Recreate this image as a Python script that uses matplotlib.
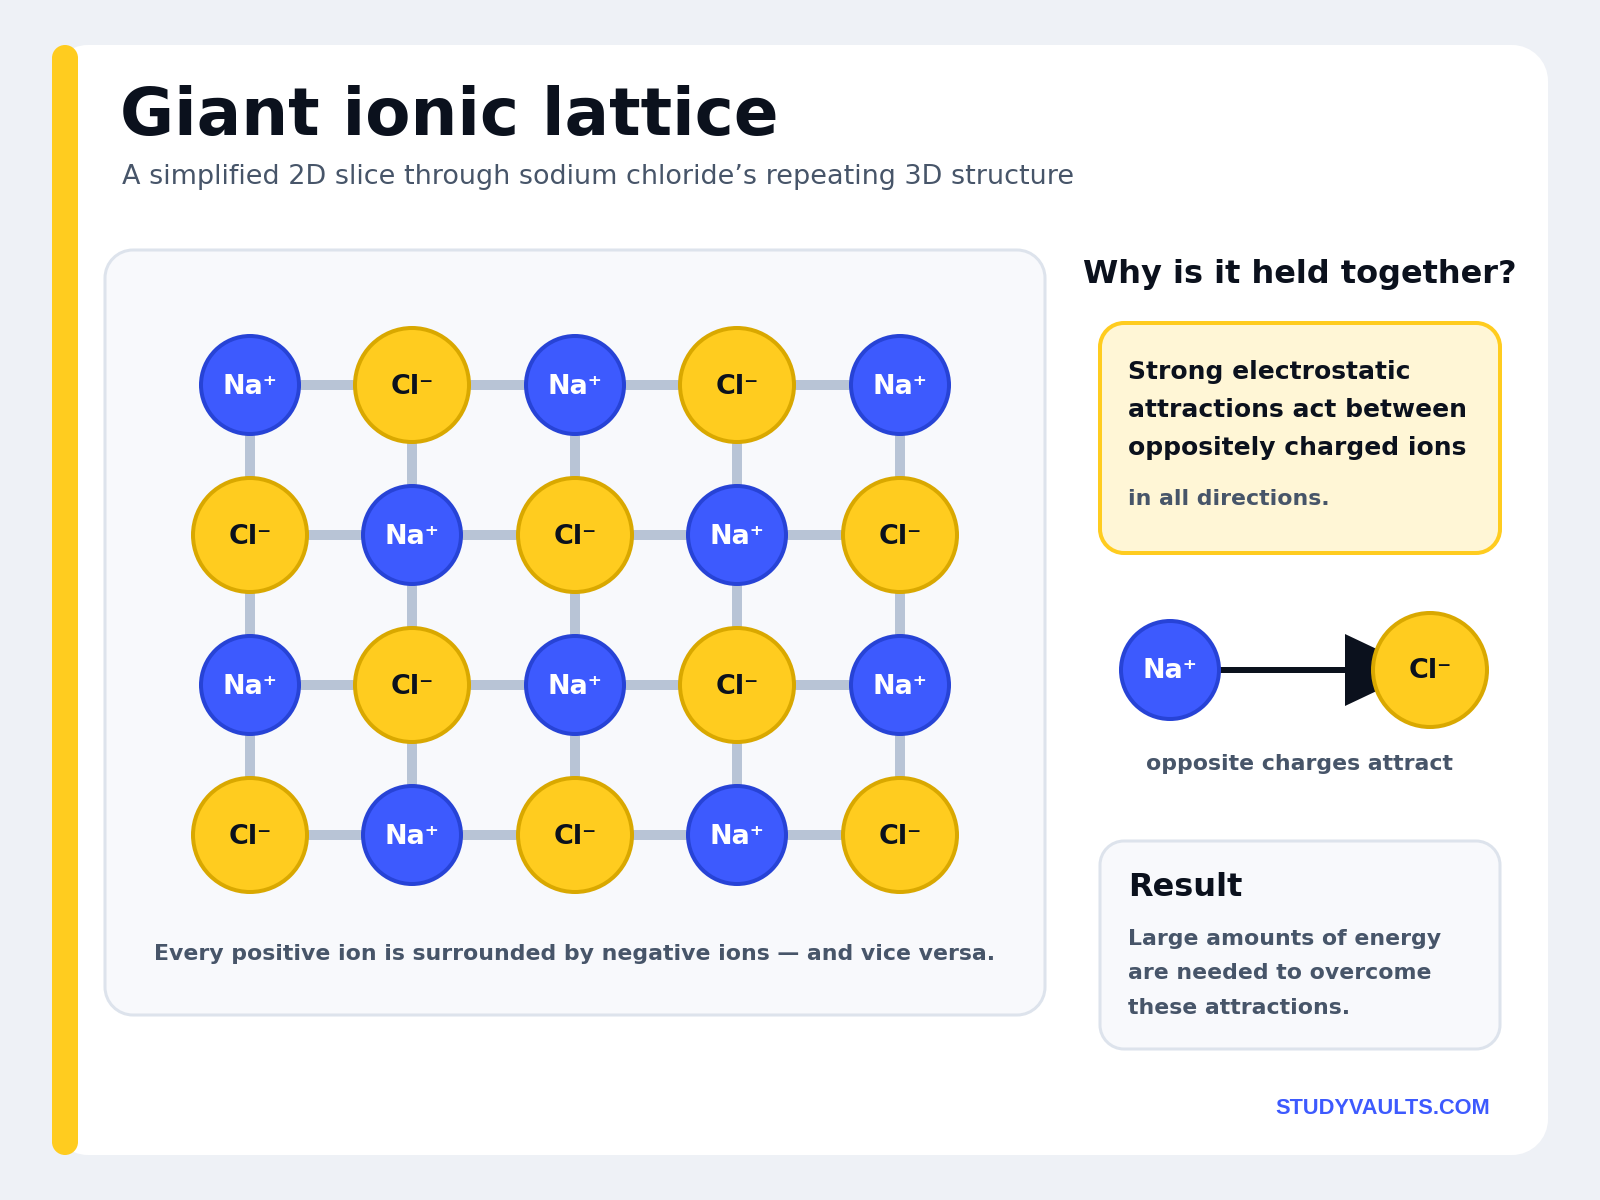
import matplotlib
matplotlib.use("Agg")
import matplotlib.pyplot as plt
from matplotlib.patches import Circle, PathPatch, Polygon
from matplotlib.path import Path

lattice = [
    ["Na", "Cl", "Na", "Cl", "Na"],
    ["Cl", "Na", "Cl", "Na", "Cl"],
    ["Na", "Cl", "Na", "Cl", "Na"],
    ["Cl", "Na", "Cl", "Na", "Cl"],
]
ion_labels = {"Na": "Na\u207a", "Cl": "Cl\u207b"}
title = "Giant ionic lattice"
subtitle = "A simplified 2D slice through sodium chloride\u2019s repeating 3D structure"
lattice_note = "Every positive ion is surrounded by negative ions \u2014 and vice versa."
side_heading = "Why is it held together?"
box_lines = ["Strong electrostatic", "attractions act between", "oppositely charged ions"]
box_extra = "in all directions."
pair_note = "opposite charges attract"
result_heading = "Result"
result_lines = ["Large amounts of energy", "are needed to overcome", "these attractions."]
site_name = "STUDYVAULTS.COM"

BG = "#eef1f6"
DARK = "#0b111d"
GREY = "#475569"
YELLOW = "#ffcc1f"
YELLOW_EDGE = "#d9a800"
BLUE = "#3d5afe"
BLUE_EDGE = "#2743d6"
BOND = "#b8c4d6"
PANEL = "#f8f9fc"
PANEL_EDGE = "#dde3ec"

grid_x = [250, 412, 575, 737, 900]
grid_y = [385, 535, 685, 835]


def px(size):
    # sizes below are in image pixels, figure is 100 dpi
    return size * 0.72


def box(ax, x0, y0, x1, y1, r, fc, ec=None, lw=0, z=1):
    # rounded rectangle with true circular corners
    k = r * 0.4477
    verts = [(x0 + r, y0), (x1 - r, y0),
             (x1 - k, y0), (x1, y0 + k), (x1, y0 + r),
             (x1, y1 - r),
             (x1, y1 - k), (x1 - k, y1), (x1 - r, y1),
             (x0 + r, y1),
             (x0 + k, y1), (x0, y1 - k), (x0, y1 - r),
             (x0, y0 + r),
             (x0, y0 + k), (x0 + k, y0), (x0 + r, y0),
             (x0 + r, y0)]
    C4, L = Path.CURVE4, Path.LINETO
    codes = [Path.MOVETO, L, C4, C4, C4, L, C4, C4, C4, L, C4, C4, C4, L, C4, C4, C4, Path.CLOSEPOLY]
    ax.add_patch(PathPatch(Path(verts, codes), fc=fc, ec=ec if ec else "none", lw=px(lw), zorder=z))


def ion(ax, kind, x, y):
    if kind == "Na":
        r, fc, ec, tc = 49, BLUE, BLUE_EDGE, "white"
    else:
        r, fc, ec, tc = 57, YELLOW, YELLOW_EDGE, DARK
    ax.add_patch(Circle((x, y), r, fc=fc, ec=ec, lw=px(4), zorder=4))
    ax.text(x, y + 8.5, ion_labels[kind], color=tc, fontsize=px(27), fontweight="bold",
            ha="center", va="baseline", zorder=5)


def label(ax, x, y, s, size, color, ha="left", weight="bold", **kw):
    ax.text(x, y, s, fontsize=px(size), color=color, ha=ha, va="baseline", fontweight=weight, zorder=6, **kw)


fig = plt.figure(figsize=(16, 12), dpi=100, facecolor=BG)
ax = fig.add_axes([0, 0, 1, 1])
ax.set_xlim(0, 1600)
ax.set_ylim(1200, 0)
ax.axis("off")

# card and accent strip
box(ax, 52, 45, 1548, 1155, 36, "white")
box(ax, 52, 45, 78, 1155, 13, YELLOW, z=2)

label(ax, 120, 135, title, 66, DARK)
label(ax, 122, 184, subtitle, 27, GREY, weight="normal")

# lattice panel
box(ax, 105, 250, 1045, 1015, 28, PANEL, PANEL_EDGE, 3)
for row in range(len(lattice)):
    ax.plot([grid_x[0], grid_x[-1]], [grid_y[row], grid_y[row]], color=BOND, lw=px(10),
            solid_capstyle="butt", zorder=3)
for col in range(len(grid_x)):
    ax.plot([grid_x[col], grid_x[col]], [grid_y[0], grid_y[-1]], color=BOND, lw=px(10),
            solid_capstyle="butt", zorder=3)
for row, kinds in enumerate(lattice):
    for col, kind in enumerate(kinds):
        ion(ax, kind, grid_x[col], grid_y[row])
label(ax, 575, 960, lattice_note, 22, GREY, ha="center")

# right column
label(ax, 1300, 283, side_heading, 32, DARK, ha="center")

box(ax, 1100, 323, 1500, 553, 24, "#fff6d6", YELLOW, 4)
for y, line in zip([379, 417, 455], box_lines):
    label(ax, 1128, y, line, 25, DARK)
label(ax, 1128, 505, box_extra, 22, GREY)

ax.plot([1215, 1350], [670, 670], color=DARK, lw=px(6), solid_capstyle="butt", zorder=3)
ax.add_patch(Polygon([(1345, 634), (1345, 706), (1421, 670)], closed=True, fc=DARK, ec="none", zorder=3))
ion(ax, "Na", 1170, 670)
ion(ax, "Cl", 1430, 670)
label(ax, 1300, 770, pair_note, 22, GREY, ha="center")

box(ax, 1100, 841, 1500, 1049, 24, PANEL, PANEL_EDGE, 3)
label(ax, 1128, 896, result_heading, 32, DARK)
for y, line in zip([945, 979, 1014], result_lines):
    label(ax, 1128, y, line, 22, GREY)

label(ax, 1490, 1114, site_name, 21.8, BLUE, ha="right", family="Liberation Sans")

fig.savefig("out.png", dpi=100, facecolor=BG)
